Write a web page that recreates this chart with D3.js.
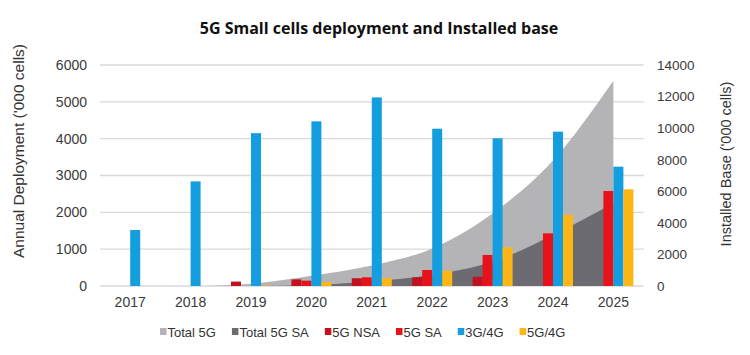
<!DOCTYPE html>
<html><head><meta charset="utf-8">
<script src="https://cdn.jsdelivr.net/npm/d3@7"></script>
<style>
body{margin:0;background:#fff}
text{font-family:"Liberation Sans",Arial,sans-serif}
</style>
</head><body>
<svg id="c" width="750" height="355"></svg>
<script>
const years = ["2017","2018","2019","2020","2021","2022","2023","2024","2025"];
const total5G   = [0, 0, 150, 650, 1300, 2380, 4600, 7950, 13000];
const total5GSA = [0, 0, 0, 60, 300, 720, 1540, 3230, 5240];
const nsa5G = [0, 0, 120, 180, 210, 236, 250, 0, 0];
const sa5G  = [0, 0, 0, 145, 236, 434, 842, 1430, 2580];
const g3g4g = [1520, 2840, 4150, 4470, 5120, 4270, 4010, 4190, 3240];
const g5g4g = [0, 0, 15, 110, 210, 415, 1050, 1930, 2625];
const leftTicks  = [0, 1000, 2000, 3000, 4000, 5000, 6000];
const rightTicks = [0, 2000, 4000, 6000, 8000, 10000, 12000, 14000];
const barSeries = ["5G NSA", "5G SA", "3G/4G", "5G/4G"];
const legendLabels = ["Total 5G", "Total 5G SA", "5G NSA", "5G SA", "3G/4G", "5G/4G"];

const colors = {
  "Total 5G": "#b4b4b7",
  "Total 5G SA": "#6c6b71",
  "5G NSA": "#c2111f",
  "5G SA": "#e8121b",
  "3G/4G": "#149ee0",
  "5G/4G": "#fdb714"
};

const svg = d3.select("#c");
const L = 100, R = 643.6, T = 65, B = 286;
const FONT = '"Liberation Sans",Arial,sans-serif';

const x = d3.scaleBand().domain(years).range([L, R]).padding(0);
const xs = d3.scaleBand().domain(barSeries).range([x.bandwidth()/2 - 20, x.bandwidth()/2 + 20]).padding(0);
const yL = d3.scaleLinear().domain([0, 6000]).range([B, T]);
const yR = d3.scaleLinear().domain([0, 14000]).range([B, T]);

// gridlines
svg.append("g").selectAll("line").data(leftTicks).join("line")
  .attr("x1", L).attr("x2", R)
  .attr("y1", d => yL(d)).attr("y2", d => yL(d))
  .attr("stroke", "#d9d9d9").attr("stroke-width", 1.3);

// areas (installed base, right axis)
const cx = (d, i) => x(years[i]) + x.bandwidth()/2;
const areaTot = d3.area().x(cx).y0(B).y1(d => yR(d)).curve(d3.curveMonotoneX);
svg.append("path").datum(total5G).attr("d", areaTot).attr("fill", colors["Total 5G"]);
svg.append("path").datum(total5GSA).attr("d", areaTot).attr("fill", colors["Total 5G SA"]);

// bars (annual deployment, left axis)
const barData = [nsa5G, sa5G, g3g4g, g5g4g];
barSeries.forEach((s, si) => {
  svg.append("g").selectAll("rect").data(barData[si]).join("rect")
    .attr("x", (d, i) => x(years[i]) + xs(s))
    .attr("width", xs.bandwidth())
    .attr("y", d => yL(d))
    .attr("height", d => B - yL(d))
    .attr("fill", colors[s]);
});

const fmt = d3.format("d");

// left axis
const axL = d3.axisLeft(yL).tickValues(leftTicks).tickFormat(fmt).tickSize(0).tickPadding(0);
const gL = svg.append("g").attr("transform", `translate(${L - 13},0)`).call(axL);
gL.attr("font-family", FONT);
gL.select(".domain").remove();
gL.selectAll("text").attr("font-size", 14).attr("fill", "#3a3a3a");

// right axis
const axR = d3.axisRight(yR).tickValues(rightTicks).tickFormat(fmt).tickSize(0).tickPadding(0);
const gR = svg.append("g").attr("transform", `translate(657,0)`).call(axR);
gR.attr("font-family", FONT);
gR.select(".domain").remove();
gR.selectAll("text").attr("font-size", 13.5).attr("fill", "#3a3a3a");

// x axis
const axX = d3.axisBottom(x).tickSize(0).tickPadding(0);
const gX = svg.append("g").attr("transform", `translate(0,${B + 11})`).call(axX);
gX.attr("font-family", FONT);
gX.select(".domain").remove();
gX.selectAll("text").attr("font-size", 14).attr("fill", "#3a3a3a");

// axis titles
svg.append("text").attr("transform", "translate(24,151) rotate(-90)")
  .attr("text-anchor", "middle").attr("font-size", 15.5).attr("fill", "#333")
  .text("Annual Deployment ('000 cells)");
svg.append("text").attr("transform", "translate(731,164) rotate(-90)")
  .attr("text-anchor", "middle").attr("font-size", 14.5).attr("fill", "#333")
  .text("Installed Base ('000 cells)");

// title
svg.append("text").attr("x", 379).attr("y", 33.5).attr("text-anchor", "middle")
  .attr("font-size", 16).attr("font-weight", "bold").attr("fill", "#111")
  .style("font-family", '"Open Sans","Noto Sans",sans-serif')
  .text("5G Small cells deployment and Installed base");

// legend
const lg = svg.append("g");
let lx = 160;
legendLabels.forEach(lbl => {
  lg.append("rect").attr("x", lx).attr("y", 328).attr("width", 6.5).attr("height", 7)
    .attr("fill", colors[lbl]);
  const t = lg.append("text").attr("x", lx + 7.5).attr("y", 336.5)
    .attr("font-size", 13).attr("fill", "#333").text(lbl);
  lx += 7.5 + t.node().getComputedTextLength() + 16;
});
</script>
</body></html>
